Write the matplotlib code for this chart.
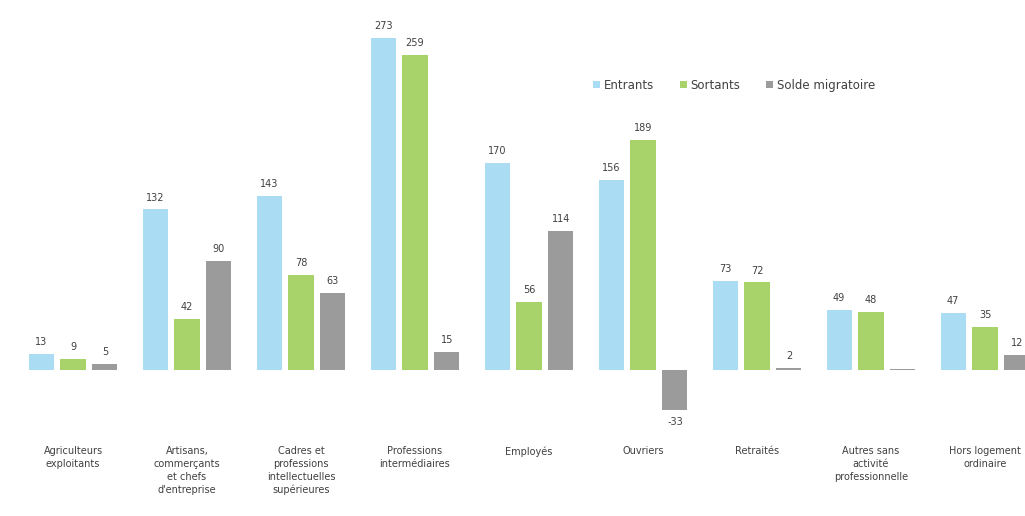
import matplotlib
matplotlib.use("Agg")
import matplotlib.pyplot as plt
import numpy as np

categories = ["Agriculteurs\nexploitants", "Artisans,\ncommerçants\net chefs\nd'entreprise",
              "Cadres et\nprofessions\nintellectuelles\nsupérieures", "Professions\nintermédiaires",
              "Employés", "Ouvriers", "Retraités", "Autres sans\nactivité\nprofessionnelle",
              "Hors logement\nordinaire"]
entrants = [13, 132, 143, 273, 170, 156, 73, 49, 47]
sortants = [9, 42, 78, 259, 56, 189, 72, 48, 35]
solde = [5, 90, 63, 15, 114, -33, 2, 1, 12]
solde_labels = ["5", "90", "63", "15", "114", "-33", "2", "", "12"]

c_ent = "#aadcf3"
c_sor = "#a8d36b"
c_sol = "#9b9b9b"
txt = "#404040"

plt.rcParams['font.family'] = ['DejaVu Sans']

fig = plt.figure(figsize=(10.25, 5.16), dpi=100)
ax = fig.add_axes([0, 96 / 516, 1, 420 / 516])

x = np.arange(len(categories))
w = 0.22
off = 0.28
b1 = ax.bar(x - off, entrants, w, color=c_ent, label="Entrants")
b2 = ax.bar(x, sortants, w, color=c_sor, label="Sortants")
b3 = ax.bar(x + off, solde, w, color=c_sol, label="Solde migratoire")

for bars, vals, labs in [(b1, entrants, [str(v) for v in entrants]),
                         (b2, sortants, [str(v) for v in sortants]),
                         (b3, solde, solde_labels)]:
    for b, v, lab in zip(bars, vals, labs):
        if not lab:
            continue
        cx = b.get_x() + b.get_width() / 2
        if v >= 0:
            ax.annotate(lab, (cx, v), xytext=(0, 5), textcoords="offset points",
                        ha="center", va="bottom", fontsize=7, color=txt)
        else:
            ax.annotate(lab, (cx, v), xytext=(0, -5), textcoords="offset points",
                        ha="center", va="top", fontsize=7, color=txt)

ax.set_xlim(-73 / 114, (1025 - 73) / 114)
ax.set_ylim(-50 / 1.216, 370 / 1.216)
ax.set_xticks(x)
ax.set_xticklabels(categories, fontsize=7, color=txt, linespacing=1.35)
ax.tick_params(axis="x", length=0, pad=19)
ax.set_yticks([])
for s in ax.spines.values():
    s.set_visible(False)

fig.legend(handles=[b1, b2, b3], loc="upper left", bbox_to_anchor=(0.568, 0.868),
           ncol=3, frameon=False, fontsize=8.5, handlelength=0.6, handleheight=0.6,
           handletextpad=0.3, columnspacing=2.2, labelcolor=txt)

fig.savefig("out.png", dpi=100)
